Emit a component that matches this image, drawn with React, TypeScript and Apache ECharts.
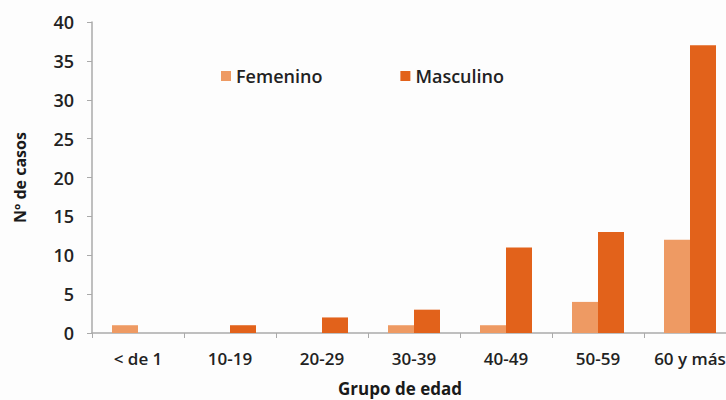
import React, { useEffect, useRef } from "react";
import * as echarts from "echarts";

const categories = ["< de 1", "10-19", "20-29", "30-39", "40-49", "50-59", "60 y más"];
const femenino = [1, 0, 0, 1, 1, 4, 12];
const masculino = [0, 1, 2, 3, 11, 13, 37];
const yTicks = { min: 0, max: 40, interval: 5 };

export default function App() {
  const ref = useRef<HTMLDivElement>(null);
  useEffect(() => {
    document.body.style.margin = "0";
    document.body.style.overflow = "hidden";
    const chart = echarts.init(ref.current!, null, { renderer: "svg" });
    const font = "'Open Sans', 'Noto Sans', sans-serif";
    chart.setOption({
      animation: false,
      backgroundColor: "#fdfdfd",
      textStyle: { fontFamily: font },
      grid: { left: 92, width: 644, top: 22, bottom: 67, containLabel: false, outerBoundsMode: "none" },
      legend: {
        top: 62,
        left: 216,
        itemWidth: 10,
        itemHeight: 10,
        itemGap: 78,
        icon: "rect",
        textStyle: { fontFamily: font, fontSize: 18, fontWeight: 600, color: "#222" },
        data: ["Femenino", "Masculino"],
      },
      xAxis: {
        type: "category",
        data: categories,
        name: "Grupo de edad",
        nameLocation: "middle",
        nameGap: 47,
        nameTextStyle: { fontFamily: font, fontSize: 17, fontWeight: 700, color: "#1a1a1a", padding: [0, 28, 0, 0] },
        axisLine: { lineStyle: { color: "#aaa", width: 1.5 } },
        axisTick: { show: true, interval: 0, length: 5, lineStyle: { color: "#aaa" } },
        axisLabel: { interval: 0, hideOverlap: false, fontFamily: font, fontSize: 17, fontWeight: 600, color: "#222", margin: 17 },
      },
      yAxis: {
        type: "value",
        min: yTicks.min,
        max: yTicks.max,
        interval: yTicks.interval,
        name: "Nº de casos",
        nameLocation: "middle",
        nameGap: 64,
        nameRotate: 90,
        nameTextStyle: { fontFamily: font, fontSize: 16, fontWeight: 700, color: "#1a1a1a" },
        axisLine: { show: true, lineStyle: { color: "#aaa", width: 1.5 } },
        axisTick: { show: true, length: 5, lineStyle: { color: "#aaa" } },
        splitLine: { show: false },
        axisLabel: { fontFamily: font, fontSize: 18, fontWeight: 600, color: "#222", margin: 18 },
      },
      series: [
        {
          name: "Femenino",
          type: "bar",
          data: femenino,
          barWidth: 26,
          barGap: "0%",
          itemStyle: { color: "#ee9a63" },
        },
        {
          name: "Masculino",
          type: "bar",
          data: masculino,
          barWidth: 26,
          barGap: "0%",
          itemStyle: { color: "#e2621b" },
        },
      ],
    });
    return () => chart.dispose();
  }, []);
  return (
    <div style={{ width: 726, height: 400, overflow: "hidden", position: "relative" }}>
      <div ref={ref} style={{ width: 740, height: 400 }} />
    </div>
  );
}
